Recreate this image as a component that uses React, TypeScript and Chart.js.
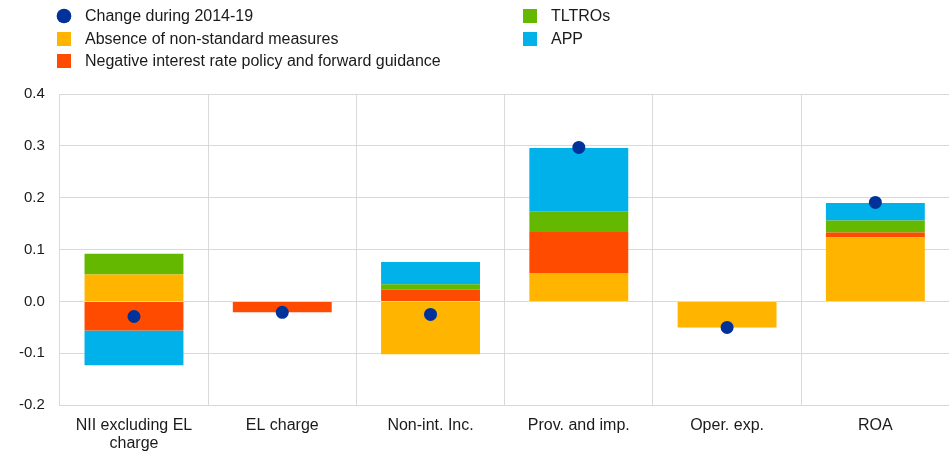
import React, { useEffect, useRef } from "react";
import { Chart, registerables } from "chart.js";

Chart.register(...registerables);

const categories: (string | string[])[] = [
  ["NII excluding EL", "charge"],
  "EL charge",
  "Non-int. Inc.",
  "Prov. and imp.",
  "Oper. exp.",
  "ROA",
];
const changeDuring = [-0.029, -0.021, -0.025, 0.297, -0.05, 0.191];
const absenceNSM = [0.052, 0, -0.102, 0.055, -0.05, 0.124];
const negativeRate = [-0.056, -0.021, 0.023, 0.079, 0, 0.009];
const tltros = [0.04, 0, 0.01, 0.04, 0, 0.023];
const app = [-0.067, 0, 0.043, 0.122, 0, 0.034];
const yTicks = [-0.2, -0.1, 0.0, 0.1, 0.2, 0.3, 0.4];

const COL_DOT = "#003299";
const COL_ABS = "#FFB400";
const COL_NEG = "#FF4B00";
const COL_TLT = "#65B800";
const COL_APP = "#00B1EA";
const FONT = "Arial, 'Liberation Sans', sans-serif";

const legendLeft = [
  { label: "Change during 2014-19", color: COL_DOT, circle: true },
  { label: "Absence of non-standard measures", color: COL_ABS, circle: false },
  { label: "Negative interest rate policy and forward guidance", color: COL_NEG, circle: false },
];
const legendRight = [
  { label: "TLTROs", color: COL_TLT, circle: false },
  { label: "APP", color: COL_APP, circle: false },
];

function LegendItem({ x, y, label, color, circle }: any) {
  return (
    <div style={{ position: "absolute", left: x, top: y - 10, height: 20, display: "flex", alignItems: "center" }}>
      <div
        style={{
          width: 14,
          height: 14,
          background: color,
          borderRadius: circle ? "50%" : 0,
          transform: circle ? "scale(1.05)" : undefined,
        }}
      />
      <span style={{ marginLeft: 14, fontFamily: FONT, fontSize: 16, color: "#1a1a1a", whiteSpace: "nowrap" }}>{label}</span>
    </div>
  );
}

export default function App() {
  const ref = useRef<HTMLCanvasElement>(null);
  useEffect(() => {
    if (!ref.current) return;
    const bar = (label: string, data: number[], color: string) => ({
      type: "bar" as const,
      label,
      data,
      backgroundColor: color,
      borderWidth: 0,
      stack: "s",
      order: 1,
    });
    const chart = new Chart(ref.current, {
      type: "bar",
      data: {
        labels: categories as any,
        datasets: [
          {
            type: "line" as const,
            label: "Change during 2014-19",
            data: changeDuring,
            showLine: false,
            pointRadius: 6.5,
            pointHoverRadius: 6.5,
            pointBackgroundColor: COL_DOT,
            pointBorderColor: COL_DOT,
            pointBorderWidth: 0,
            backgroundColor: COL_DOT,
            borderColor: COL_DOT,
            stack: "dots",
            order: 0,
          } as any,
          bar("Absence of non-standard measures", absenceNSM, COL_ABS),
          bar("Negative interest rate policy and forward guidance", negativeRate, COL_NEG),
          bar("TLTROs", tltros, COL_TLT),
          bar("APP", app, COL_APP),
        ],
      },
      options: {
        animation: false,
        responsive: false,
        maintainAspectRatio: false,
        layout: { padding: { top: 94, right: 0, left: 4, bottom: -12 } },
        datasets: { bar: { categoryPercentage: 0.667, barPercentage: 1 } },
        plugins: { legend: { display: false }, tooltip: { enabled: false } },
        scales: {
          x: {
            stacked: true,
            offset: true,
            grid: { offset: true, color: "#d9d9d9", drawTicks: false, lineWidth: 1 },
            border: { color: "#d9d9d9" },
            ticks: {
              color: "#1a1a1a",
              font: { family: FONT, size: 16, lineHeight: 1.15 },
              padding: 11,
              maxRotation: 0,
              autoSkip: false,
            },
          },
          y: {
            stacked: true,
            min: -0.2,
            max: 0.4,
            afterBuildTicks: (axis: any) => {
              axis.ticks = yTicks.map((v) => ({ value: v }));
            },
            grid: { color: "#d9d9d9", drawTicks: false },
            border: { color: "#d9d9d9" },
            ticks: {
              color: "#1a1a1a",
              font: { family: FONT, size: 15 },
              padding: 15,
              callback: (v: any) => Number(v).toFixed(1),
            },
          },
        },
      },
    });
    return () => chart.destroy();
  }, []);
  return (
    <div style={{ position: "absolute", left: 0, top: 0, width: 949, height: 452, background: "#fff", overflow: "hidden" }}>
      <canvas ref={ref} width={956} height={452} style={{ position: "absolute", left: 0, top: 0 }} />
      {legendLeft.map((it, i) => (
        <LegendItem key={it.label} x={57} y={16 + i * 22.5} {...it} />
      ))}
      {legendRight.map((it, i) => (
        <LegendItem key={it.label} x={523} y={16 + i * 22.5} {...it} />
      ))}
    </div>
  );
}
